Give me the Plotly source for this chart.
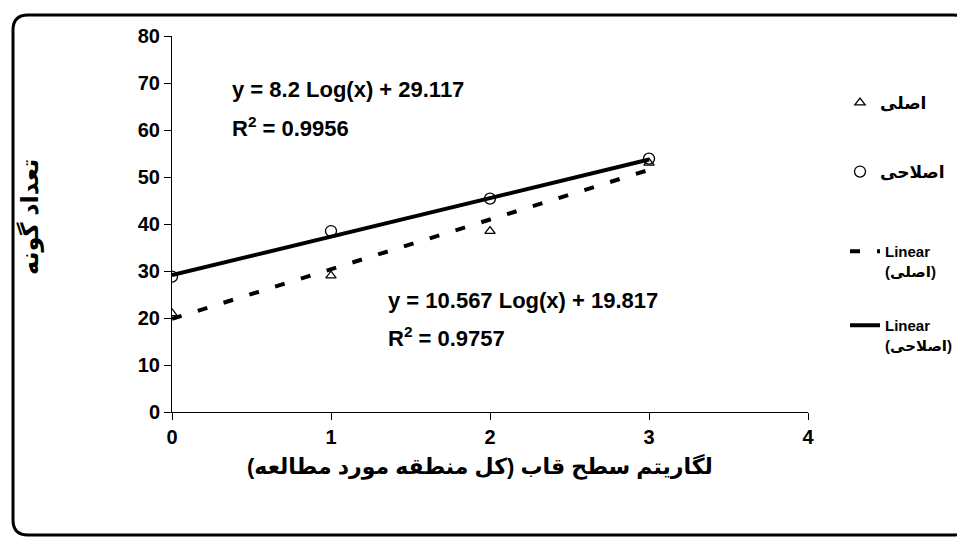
import plotly.graph_objects as go

# ---- data ----
x_vals = [0, 1, 2, 3]
asli = [21, 29, 38.5, 53]          # اصلی (triangles)
eslahi = [28.8, 38.5, 45.4, 53.9]  # اصلاحی (circles)
fit_asli = [10.567, 19.817]        # slope, intercept
fit_eslahi = [8.2, 29.117]
fit_x = [0, 3]
x_ticks = [0, 1, 2, 3, 4]
y_ticks = [0, 10, 20, 30, 40, 50, 60, 70, 80]

name_asli = "اصلی"
name_eslahi = "اصلاحی"

FONT = "Liberation Sans, Arial, DejaVu Sans, sans-serif"

fig = go.Figure()

fig.add_trace(go.Scatter(
    x=x_vals, y=asli, mode="markers", name=name_asli,
    marker=dict(symbol="triangle-up-open", size=9, color="black", line=dict(width=1.3, color="black")),
    legend="legend",
))
fig.add_trace(go.Scatter(
    x=x_vals, y=eslahi, mode="markers", name=name_eslahi,
    marker=dict(symbol="circle-open", size=11, color="black", line=dict(width=1.3, color="black")),
    legend="legend2",
))
fig.add_trace(go.Scatter(
    x=fit_x, y=[fit_asli[0] * v + fit_asli[1] for v in fit_x], mode="lines",
    name="Linear<br>(" + name_asli + ")",
    line=dict(color="black", width=4, dash="10px,17px"),
    legend="legend3",
))
fig.add_trace(go.Scatter(
    x=fit_x, y=[fit_eslahi[0] * v + fit_eslahi[1] for v in fit_x], mode="lines",
    name="Linear<br>(" + name_eslahi + ")",
    line=dict(color="black", width=4),
    legend="legend4",
))

# page has an 8px body margin: screen pixel s -> figure pixel s - 8
OFF = 8
W, H = 965, 537
L, T = 172 - OFF, 36 - OFF
R = W - (808 - OFF)
B = H - (412 - OFF)
pw, ph = W - L - R, H - T - B

def px(xs):
    return (xs - OFF - L) / pw

def py(ys):
    return (H - B - (ys - OFF)) / ph

def leg(xscreen, ycenter, size):
    return dict(x=px(xscreen), y=py(ycenter), xanchor="left", yanchor="middle",
                bgcolor="rgba(0,0,0,0)", borderwidth=0,
                font=dict(family=FONT, size=size, color="black", weight="bold"),
                itemwidth=30, tracegroupgap=0, valign="top")

# rounded border
X0, X1, Y0, Y1 = px(13), px(968), py(535), py(15)
rx, ry = 15 / pw, 15 / ph
path = (f"M {X0+rx},{Y1} L {X1-rx},{Y1} Q {X1},{Y1} {X1},{Y1-ry} "
        f"L {X1},{Y0+ry} Q {X1},{Y0} {X1-rx},{Y0} L {X0+rx},{Y0} "
        f"Q {X0},{Y0} {X0},{Y0+ry} L {X0},{Y1-ry} Q {X0},{Y1} {X0+rx},{Y1} Z")

eqfont = dict(family=FONT, size=22, color="black")
fig.update_layout(
    width=W, height=H,
    margin=dict(l=L, r=R, t=T, b=B, autoexpand=False),
    paper_bgcolor="white", plot_bgcolor="white",
    font=dict(family=FONT, color="black"),
    showlegend=True,
    legend=leg(840, 103, 17),
    legend2=leg(840, 172, 17),
    legend3=leg(845, 261, 15),
    legend4=leg(845, 335, 15),
    shapes=[dict(type="path", path=path, xref="paper", yref="paper",
                 line=dict(color="black", width=3), layer="below")],
    annotations=[
        dict(x=px(230), y=py(90), xref="paper", yref="paper", xanchor="left", yanchor="middle",
             text="<b>y = 8.2 Log(x) + 29.117</b>", showarrow=False, font=eqfont),
        dict(x=px(230), y=py(127), xref="paper", yref="paper", xanchor="left", yanchor="middle",
             text="<b>R<sup>2</sup> = 0.9956</b>", showarrow=False, font=eqfont),
        dict(x=px(386), y=py(300), xref="paper", yref="paper", xanchor="left", yanchor="middle",
             text="<b>y = 10.567 Log(x) + 19.817</b>", showarrow=False, font=eqfont),
        dict(x=px(386), y=py(337), xref="paper", yref="paper", xanchor="left", yanchor="middle",
             text="<b>R<sup>2</sup> = 0.9757</b>", showarrow=False, font=eqfont),
        dict(x=px(480), y=py(467), xref="paper", yref="paper", xanchor="center", yanchor="middle",
             text="<b>لگاریتم سطح قاب (کل منطقه مورد مطالعه)</b>", showarrow=False,
             font=dict(family=FONT, size=22, color="black")),
        dict(x=px(30), y=py(217), xref="paper", yref="paper", xanchor="center", yanchor="middle",
             text="<b>تعداد گونه</b>", showarrow=False, textangle=-90,
             font=dict(family=FONT, size=24, color="black")),
    ],
)

tickfont = dict(family=FONT, size=20, color="black", weight="bold")
fig.update_xaxes(range=[0, 4], tickvals=x_ticks, ticks="outside", ticklen=7, tickwidth=1,
                 tickcolor="black", showline=True, linecolor="black", linewidth=1,
                 showgrid=False, zeroline=False, tickfont=tickfont)
fig.update_yaxes(range=[0, 80], tickvals=y_ticks, ticks="outside", ticklen=7, tickwidth=1,
                 tickcolor="black", showline=True, linecolor="black", linewidth=1,
                 showgrid=False, zeroline=False, tickfont=tickfont)

fig.write_html("out.html")
